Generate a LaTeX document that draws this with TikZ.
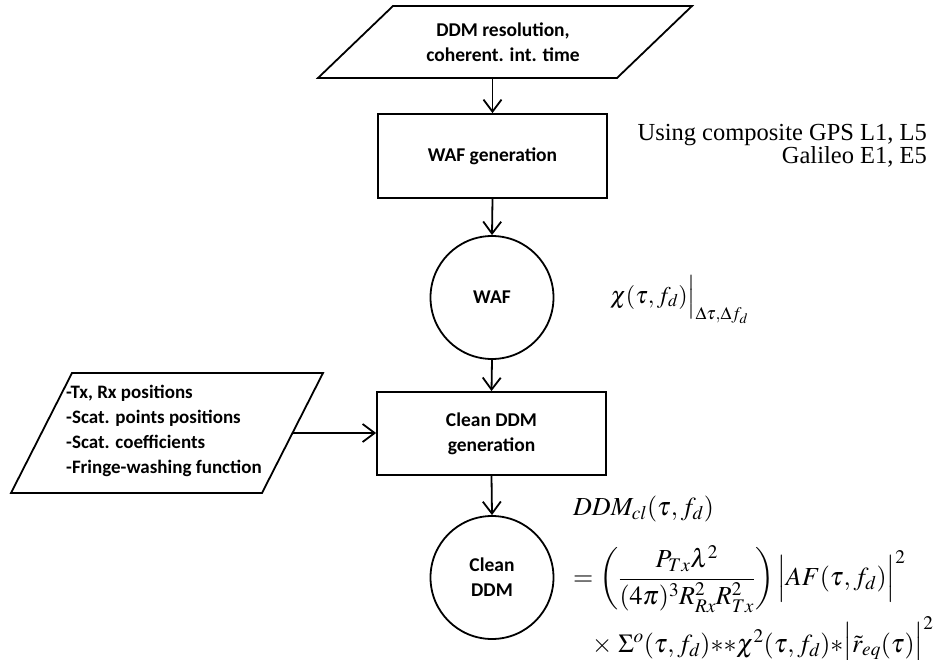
\documentclass[tikz,border=0pt]{standalone}
\usepackage{amsmath}
\usepackage[no-math]{fontspec}
\usepackage{mathptmx}
\setmainfont{Carlito}
\newfontfamily\timesfont{Liberation Serif}
\usetikzlibrary{arrows.meta}
\tikzset{
  ln/.style={line width=1.8pt},
  arr/.style={ln, -{Straight Barb[length=12pt,width=18pt,line width=1.8pt]}},
  procbox/.style={ln, draw, rectangle, minimum width=229pt, minimum height=84pt, inner sep=0pt,
    align=center, font=\fontsize{19.5}{25}\selectfont\bfseries},
  databall/.style={ln, draw, circle, minimum size=123pt, inner sep=0pt,
    align=center, font=\fontsize{19.5}{25}\selectfont\bfseries},
  lbl/.style={inner sep=0pt, font=\fontsize{19}{25}\selectfont\bfseries},
  serif/.style={inner sep=0pt, font=\timesfont\fontsize{24.5}{23}\selectfont},
  mth/.style={inner sep=0pt, font=\fontsize{26}{30}\selectfont},
}
\begin{document}
\begin{tikzpicture}[x=1pt,y=-1pt]
\useasboundingbox (0,0) rectangle (934,660);

% top input parallelogram
\coordinate (tA) at (393,6);
\coordinate (tB) at (692,6);
\coordinate (tC) at (617,78);
\coordinate (tD) at (318,78);
\draw[ln, line join=miter] (tA) -- (tB) -- (tC) -- (tD) -- cycle;
\node[lbl, align=center, font=\fontsize{19.5}{25}\selectfont\bfseries] (intext) at (503,42) {DDM resolution,\\coherent. int. time};
\coordinate (tOut) at (492.5,78);

% WAF generation
\node[procbox] (wafgen) at (492.5,156) {WAF generation};
% WAF
\node[databall] (waf) at (492,297.5) {WAF};
% Clean DDM generation
\node[procbox, minimum height=83pt] (cleangen) at (491.5,433.5) {Clean DDM\\generation};
% Clean DDM
\node[databall] (clean) at (492,577.5) {Clean\\DDM};

% left parallelogram
\coordinate (lA) at (72,373);
\coordinate (lB) at (323,373);
\coordinate (lC) at (262,493);
\coordinate (lD) at (11,493);
\draw[ln, line join=miter] (lA) -- (lB) -- (lC) -- (lD) -- cycle;
\coordinate (lOut) at (292.5,433);
\node[lbl, align=left, anchor=west] (params) at (66,431)
  {-Tx, Rx positions\\-Scat. points positions\\-Scat. coefficients\\-Fringe-washing function};

% connectors
\draw[arr] (tOut) -- (wafgen.north);
\draw[arr] (wafgen.south) -- (waf.north);
\draw[arr] (waf.south) -- (cleangen.north);
\draw[arr] (lOut) -- (cleangen.west |- lOut);
\draw[arr] (cleangen.south) -- (clean.north);

% right texts
\node[serif, align=right, anchor=north east] (gnss) at (927,124)
  {Using composite GPS L1, L5\\Galileo E1, E5};
\node[mth, anchor=base west, font=\fontsize{24}{30}\selectfont] (chi) at (610,303)
  {$\chi(\tau,f_d)\Bigr|_{\Delta\tau,\Delta f_d}$};

\node[mth, anchor=base west] (eq1) at (573,515) {$DDM_{cl}(\tau,f_d)$};
\node[mth, anchor=west] (eq2) at (573,579)
  {$=\left(\dfrac{P_{Tx}\lambda^2}{(4\pi)^3R^2_{Rx}R^2_{Tx}}\right)\Bigl|AF(\tau,f_d)\Bigr|^2$};
\node[mth, anchor=base west] (eq3) at (592,652)
  {$\times\ \Sigma^o(\tau,f_d){*}{*}\chi^2(\tau,f_d){*}\Bigl|\tilde{r}_{eq}(\tau)\Bigr|^2$};
\end{tikzpicture}
\end{document}
